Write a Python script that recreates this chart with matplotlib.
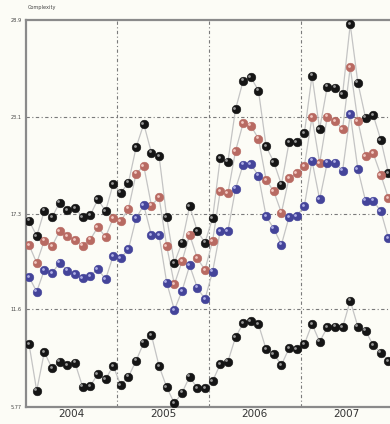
import matplotlib
matplotlib.use("Agg")
import matplotlib.pyplot as plt
import matplotlib.transforms as mtransforms
import numpy as np

years = ["2004", "2005", "2006", "2007"]
y_ticks = [5.77, 11.6, 17.3, 23.1, 28.9]
y_tick_labels = ["5.77", "11.6", "17.3", "23.1", "28.9"]

upper_black = [16.91, 15.99, 17.50, 17.11, 17.98, 17.55, 17.67, 17.11, 17.23, 18.18, 17.47, 19.10,
               18.58, 19.18, 21.29, 22.69, 20.97, 20.77, 17.11, 14.38, 15.60, 17.78, 16.29, 15.59,
               17.05, 20.64, 20.43, 23.56, 25.27, 25.48, 24.68, 21.35, 20.41, 19.06, 21.58, 21.58,
               22.13, 25.57, 22.39, 24.92, 24.86, 24.46, 28.64, 25.15, 23.06, 23.22, 21.73, 19.74]
red = [15.45, 14.38, 15.72, 15.38, 16.29, 15.97, 15.75, 15.42, 15.77, 16.53, 15.93, 17.05,
       16.89, 17.62, 19.72, 20.18, 17.81, 18.30, 15.39, 13.10, 14.47, 16.07, 14.66, 13.96,
       15.69, 18.66, 18.54, 21.07, 22.73, 22.58, 21.81, 19.34, 18.66, 17.38, 19.46, 19.74,
       20.16, 23.09, 20.34, 23.12, 22.86, 22.39, 26.07, 22.86, 20.77, 20.93, 19.64, 18.24]
blue = [13.54, 12.66, 13.96, 13.76, 14.40, 13.92, 13.72, 13.46, 13.60, 14.02, 13.40, 14.80,
        14.66, 15.20, 17.05, 17.83, 16.05, 16.05, 13.20, 11.57, 12.70, 14.23, 12.90, 12.21,
        13.86, 16.28, 16.28, 18.81, 20.26, 20.28, 19.59, 17.17, 16.43, 15.47, 17.13, 17.19,
        17.78, 20.49, 18.18, 20.37, 20.37, 19.89, 23.27, 19.98, 18.10, 18.10, 17.47, 15.85]
lower_black = [9.52, 6.74, 9.06, 8.08, 8.48, 8.28, 8.42, 6.98, 7.03, 7.74, 7.43, 8.22,
               7.07, 7.58, 8.54, 9.61, 10.07, 8.22, 6.95, 5.99, 6.62, 7.58, 6.89, 6.89,
               7.32, 8.32, 8.48, 9.94, 10.77, 10.91, 10.71, 9.22, 8.94, 8.28, 9.28, 9.22,
               9.52, 10.73, 9.67, 10.53, 10.57, 10.53, 12.12, 10.57, 10.33, 9.46, 9.02, 8.52]

bg = "#fcfcf6"
fig = plt.figure(figsize=(3.9, 4.24), dpi=100, facecolor=bg)
ax = fig.add_axes([26 / 390, 17 / 424, 364 / 390, 387 / 424], facecolor=bg)

months = np.arange(len(upper_black))
ax.set_xlim(-0.4, 47.2)
ax.set_ylim(y_ticks[0], y_ticks[-1])

# grid: dash-dot lines at value ticks and year boundaries
grid_style = dict(color="#7a7a7a", lw=0.8, ls=(0, (3, 2.2, 1, 2.2)), zorder=1)
for v in y_ticks[1:-1]:
    ax.axhline(v, **grid_style)
for k in range(1, len(years)):
    ax.axvline(12 * k - 0.5, **grid_style)

highlight = ax.transData + mtransforms.ScaledTranslation(-1.0 / 72, 1.0 / 72, fig.dpi_scale_trans)

series = [
    (upper_black, "#151515", "#9a9a9a"),
    (red, "#b86a62", "#f2c9c2"),
    (blue, "#44449a", "#b0b0e6"),
    (lower_black, "#151515", "#9a9a9a"),
]
for vals, face, shine in series:
    ax.plot(months, vals, color="#c4c4c4", lw=0.9, zorder=2)
    ax.plot(months, vals, ls="none", marker="o", ms=6.2, mfc=face, mec=face, mew=0.4, zorder=3)
    ax.plot(months, vals, ls="none", marker="o", ms=2.0, mfc=shine, mec="none",
            transform=highlight, zorder=4)

for s in ["left", "bottom", "top"]:
    ax.spines[s].set_color("#8a8a8a")
    ax.spines[s].set_linewidth(1.6)
ax.spines["right"].set_visible(False)

ax.set_yticks(y_ticks)
ax.set_yticklabels(y_tick_labels, fontsize=3.6, color="#444444")
ax.set_xticks([12 * k + 5.5 for k in range(len(years))])
ax.set_xticklabels(years, fontsize=7.5, color="#333333")
ax.tick_params(axis="both", length=0, pad=3)
ax.tick_params(axis="x", pad=1.5)

fig.text(28 / 390, 1 - 7 / 424, "Complexity", fontsize=3.6, color="#444444", va="center", ha="left")

fig.savefig("out.png", dpi=100, facecolor=bg)
